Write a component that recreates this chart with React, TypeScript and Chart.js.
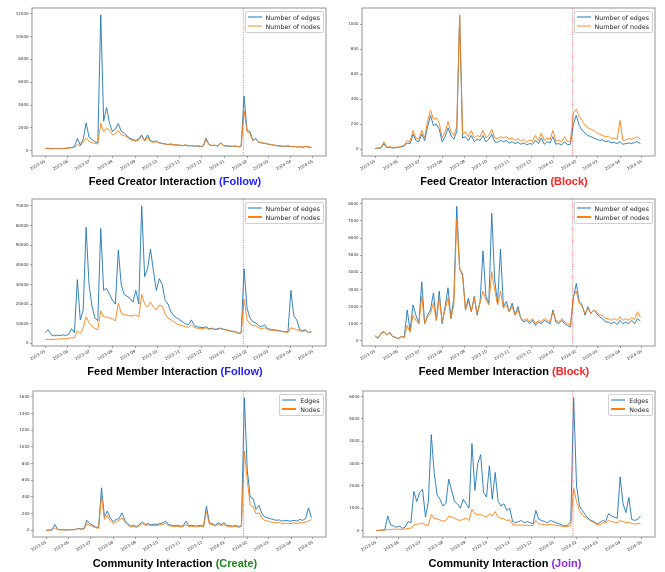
import React, { useEffect, useRef } from "react";
import { Chart, registerables } from "chart.js";

Chart.register(...registerables);

// Days since 2023-05-01 for every sample
const dayIndex = [
  0, 4, 8, 12, 16, 20, 24, 28, 32, 36, 40, 44, 48, 52, 56, 60, 64, 68, 72, 76,
  80, 84, 88, 92, 96, 100, 104, 108, 112, 116, 120, 124, 128, 132, 136, 140, 144, 148, 152, 156,
  160, 164, 168, 172, 176, 180, 184, 188, 192, 196, 200, 204, 208, 212, 216, 220, 224, 228, 232, 236,
  240, 244, 248, 252, 256, 260, 264, 268, 272, 276, 280, 284, 288, 292, 296, 300, 304, 308, 312, 316,
  320, 324, 328, 332, 336, 340, 344, 348, 352, 356, 360, 364,
];
const monthTickDays = [0, 31, 61, 92, 123, 153, 184, 214, 245, 276, 305, 336, 366];
const monthTickLabels = [
  "2023-05", "2023-06", "2023-07", "2023-08", "2023-09", "2023-10", "2023-11",
  "2023-12", "2024-01", "2024-02", "2024-03", "2024-04", "2024-05",
];
const eventDay = 271;

// Feed Creator Interaction (Follow)
const fcFollowEdges = [
  200, 230, 180, 210, 190, 220, 200, 230, 260, 300,
  350, 1100, 500, 1000, 2450, 1200, 1000, 800, 700, 11900,
  2600, 3800, 2400, 1700, 1900, 2400, 1700, 1600, 1300, 1100,
  1000, 900, 1050, 1400, 900, 1400, 900, 800, 850, 700,
  650, 600, 550, 600, 500, 520, 480, 450, 500, 430,
  450, 400, 420, 380, 400, 1100, 550, 450, 480, 420,
  700, 450, 420, 400, 380, 420, 350, 400, 4800, 1800,
  1700, 900, 1100, 750, 700, 650, 600, 550, 500, 450,
  420, 400, 380, 420, 350, 380, 330, 360, 300, 380,
  320, 300,
];
const fcFollowNodes = [
  200, 210, 170, 200, 180, 200, 190, 210, 240, 270,
  300, 550, 420, 800, 1100, 850, 700, 650, 600, 2400,
  1700, 2000, 1800, 1400, 1500, 1800, 1400, 1350, 1200, 1000,
  900, 850, 950, 1300, 850, 1200, 800, 750, 800, 680,
  650, 600, 560, 600, 520, 540, 500, 470, 520, 450,
  470, 430, 450, 400, 420, 950, 550, 480, 500, 450,
  650, 480, 450, 430, 400, 430, 380, 420, 3500, 1700,
  1500, 900, 1050, 750, 700, 680, 620, 560, 520, 480,
  450, 420, 400, 450, 380, 400, 350, 380, 330, 400,
  340, 320,
];

// Feed Creator Interaction (Block)
const fcBlockEdges = [
  5, 8, 10, 45, 12, 15, 10, 12, 15, 20,
  25, 50, 45, 120, 70, 60, 120, 70, 180, 270,
  190, 200, 160, 60, 100, 170, 110, 80, 140, 1060,
  90, 100, 70, 110, 60, 80, 70, 110, 60, 80,
  120, 60, 55, 70, 60, 70, 50, 60, 45, 55,
  40, 50, 35, 45, 40, 70, 45, 90, 40, 60,
  50, 100, 40, 45, 35, 60, 35, 40, 200, 270,
  190, 150, 130, 110, 100, 90, 80, 70, 75, 60,
  65, 50, 55, 45, 60, 40, 45, 50, 45, 55,
  60, 45,
];
const fcBlockNodes = [
  6, 10, 12, 60, 15, 20, 15, 15, 18, 25,
  35, 70, 60, 150, 90, 80, 150, 90, 230, 310,
  240, 250, 210, 90, 140, 220, 140, 110, 180, 1075,
  120, 140, 100, 150, 90, 110, 100, 150, 90, 110,
  160, 90, 85, 100, 90, 100, 80, 90, 70, 85,
  65, 80, 55, 75, 65, 110, 70, 130, 70, 90,
  80, 150, 65, 70, 60, 100, 60, 65, 290, 320,
  260, 230, 190, 170, 160, 150, 130, 120, 110, 100,
  105, 85, 90, 80, 230, 70, 75, 85, 80, 90,
  100, 80,
];

// Feed Member Interaction (Follow)
const fmFollowEdges = [
  5500, 7000, 4500, 3800, 4200, 4000, 4300, 4100, 4500, 7500,
  5500, 32500, 12000, 17000, 59000, 30000, 19000, 13000, 11500, 58500,
  27000, 28000, 25000, 22000, 20000, 47500, 30000, 25000, 24000, 23000,
  21000, 27000, 20000, 70000, 34000, 38000, 48000, 37000, 27000, 33000,
  30000, 22000, 20000, 16000, 14000, 13000, 12000, 11000, 10000, 9500,
  12000, 9000, 8500, 8200, 8000, 8500, 7500, 7800, 7200, 7500,
  7800, 7200, 7000, 6500, 6200, 6000, 5200, 5500, 38000, 18000,
  13000, 11000, 10500, 9000, 8500, 9500, 7500, 7200, 7000, 6800,
  6500, 6200, 6000, 5800, 27000, 14000, 12000, 7000, 6500, 7000,
  5500, 6000,
];
const fmFollowNodes = [
  2000, 2100, 2000, 2100, 2200, 2300, 2400, 2400, 2600, 3000,
  2800, 6500, 5000, 8000, 13500, 10500, 9000, 7500, 7000, 16500,
  13500, 13500, 13000, 12500, 11500, 20500, 15500, 14500, 14500, 14000,
  14200, 14500, 13500, 25000, 20000, 18500, 21000, 18500, 17000, 19500,
  19000, 15000, 13000, 12000, 11000, 10000, 9500, 9000, 8500, 8200,
  9500, 8000, 7800, 7600, 7500, 8000, 7200, 7500, 7000, 7200,
  7500, 7000, 6800, 6300, 6000, 5800, 5000, 5300, 22500, 12000,
  10000, 9000, 9000, 8000, 7500, 8000, 7000, 6800, 6700, 6500,
  6300, 6000, 5800, 5500, 8000, 7500, 7000, 6500, 6000, 6500,
  5500, 6000,
];

// Feed Member Interaction (Block)
const fmBlockEdges = [
  300, 150, 450, 550, 350, 500, 250, 200, 120, 250,
  200, 1800, 600, 2100, 1500, 1000, 3450, 1000, 1500, 1800,
  2800, 1200, 2900, 1000, 2000, 3100, 1300, 2500, 7850, 4200,
  3900, 1800, 2500, 1700, 2600, 1500, 2300, 5250, 2600, 2200,
  7450, 3600, 2200, 5350, 2000, 2300, 1700, 2200, 1500, 2000,
  1300, 1100, 1200, 1000, 1200, 900, 1100, 1000, 1200, 1100,
  1000, 1800, 1100, 1000, 1200, 1000, 900, 800, 2500, 3350,
  2300, 2100, 1500, 2000, 1600, 1800, 1600, 1400, 1300, 1100,
  1100, 1000, 1100, 950, 1200, 1000, 1100, 1000, 1200, 1000,
  1300, 1150,
];
const fmBlockNodes = [
  250, 180, 400, 500, 350, 450, 250, 200, 150, 250,
  220, 900, 500, 1500, 1200, 1000, 2600, 1000, 1400, 1600,
  2200, 1200, 2500, 1100, 1800, 2500, 1300, 2100, 7100, 4200,
  3800, 1800, 2300, 1700, 2500, 1600, 2200, 2900, 2400, 2100,
  4050, 3000, 2100, 2900, 1900, 2100, 1700, 2000, 1500, 1800,
  1300, 1200, 1300, 1100, 1300, 1000, 1200, 1100, 1300, 1200,
  1100, 1700, 1200, 1100, 1300, 1100, 1000, 900, 2600, 2900,
  2200, 2000, 1600, 1900, 1600, 1800, 1700, 1500, 1500, 1300,
  1300, 1200, 1300, 1200, 1400, 1200, 1300, 1200, 1350, 1250,
  1700, 1350,
];

// Community Interaction (Create)
const ciCreateEdges = [
  0, 2, 5, 70, 10, 8, 5, 5, 6, 8,
  10, 25, 15, 20, 120, 80, 60, 40, 35, 510,
  160, 230, 150, 100, 130, 140, 210, 120, 80, 50,
  60, 45, 70, 100, 70, 80, 65, 75, 70, 80,
  90, 110, 70, 60, 55, 60, 50, 55, 110, 55,
  60, 50, 55, 60, 50, 290, 90, 80, 60, 90,
  70, 90, 60, 55, 50, 60, 45, 55, 1590, 720,
  400, 380, 250, 300, 200, 160, 150, 140, 130, 120,
  125, 110, 120, 115, 110, 120, 110, 130, 120, 140,
  270, 150,
];
const ciCreateNodes = [
  0, 2, 4, 30, 8, 6, 5, 5, 6, 7,
  8, 20, 12, 15, 80, 60, 45, 30, 25, 410,
  130, 180, 110, 80, 100, 120, 150, 100, 60, 40,
  45, 35, 55, 80, 60, 65, 55, 60, 55, 65,
  70, 85, 55, 50, 45, 50, 40, 45, 70, 45,
  50, 40, 45, 50, 40, 230, 75, 70, 50, 75,
  55, 70, 50, 45, 40, 50, 35, 45, 950, 600,
  300, 280, 200, 210, 150, 120, 110, 100, 95, 90,
  95, 80, 85, 85, 80, 90, 80, 95, 90, 100,
  110, 130,
];

// Community Interaction (Join)
const ciJoinEdges = [
  0, 10, 20, 25, 650, 250, 200, 150, 200, 100,
  150, 400, 350, 1750, 1300, 1700, 1850, 600, 1300, 4300,
  2600, 1600, 1400, 1100, 1200, 2300, 1800, 1300, 1200, 1000,
  1400, 1200, 1000, 3900, 1800, 3000, 3400, 1700, 1500, 2900,
  1400, 2600, 1300, 1100, 1200, 900, 1000, 400, 350, 400,
  450, 350, 400, 350, 300, 900, 500, 450, 400, 350,
  450, 400, 350, 300, 250, 200, 250, 400, 5950, 2000,
  1100, 900, 700, 550, 450, 400, 300, 350, 450, 400,
  750, 650, 600, 550, 2400, 1200, 800, 1480, 500, 450,
  500, 650,
];
const ciJoinNodes = [
  0, 10, 15, 20, 40, 50, 55, 60, 60, 55,
  65, 100, 100, 250, 280, 300, 330, 250, 230, 720,
  550, 520, 470, 420, 450, 650, 600, 550, 480, 450,
  520, 550, 450, 950, 750, 700, 720, 650, 600, 750,
  650, 850, 600, 550, 520, 450, 480, 260, 250, 240,
  250, 230, 240, 220, 220, 450, 300, 280, 260, 250,
  270, 250, 230, 210, 190, 170, 180, 220, 1900, 1300,
  900, 700, 600, 500, 420, 360, 260, 250, 350, 340,
  450, 400, 380, 350, 450, 400, 350, 370, 310, 300,
  300, 320,
];

const yTicksFcFollow = [0, 2000, 4000, 6000, 8000, 10000, 12000];
const yTicksFcBlock = [0, 200, 400, 600, 800, 1000];
const yTicksFmFollow = [0, 10000, 20000, 30000, 40000, 50000, 60000, 70000];
const yTicksFmBlock = [0, 1000, 2000, 3000, 4000, 5000, 6000, 7000, 8000];
const yTicksCiCreate = [0, 200, 400, 600, 800, 1000, 1200, 1400, 1600];
const yTicksCiJoin = [0, 1000, 2000, 3000, 4000, 5000, 6000];

const longLegend = ["Number of edges", "Number of nodes"];
const shortLegend = ["Edges", "Nodes"];

type Rect = { x0: number; y0: number; x1: number; y1: number };
type PanelSpec = {
  edges: number[];
  nodes: number[];
  yTicks: number[];
  yMin: number;
  yMax: number;
  plot: Rect;
  legend: string[];
  legendColors: string[];
  title: string;
  tag: string;
  tagColor: string;
  titleX: number;
  titleY: number;
};

const ORANGE = "#ff7f0e";
const LIGHT_BLUE = "#8cbbe0";
const LIGHT_ORANGE = "#ffc48f";

const panels: PanelSpec[] = [
  {
    edges: fcFollowEdges, nodes: fcFollowNodes, yTicks: yTicksFcFollow, yMin: -450, yMax: 12500,
    plot: { x0: 32, y0: 8, x1: 326, y1: 156 }, legend: longLegend, legendColors: [LIGHT_BLUE, LIGHT_ORANGE],
    title: "Feed Creator Interaction", tag: "(Follow)", tagColor: "#2222ff", titleX: 175, titleY: 182,
  },
  {
    edges: fcBlockEdges, nodes: fcBlockNodes, yTicks: yTicksFcBlock, yMin: -54, yMax: 1128,
    plot: { x0: 362, y0: 8, x1: 655, y1: 156 }, legend: longLegend, legendColors: [LIGHT_BLUE, LIGHT_ORANGE],
    title: "Feed Creator Interaction", tag: "(Block)", tagColor: "#ff2020", titleX: 504, titleY: 182,
  },
  {
    edges: fmFollowEdges, nodes: fmFollowNodes, yTicks: yTicksFmFollow, yMin: -1300, yMax: 73500,
    plot: { x0: 32, y0: 199, x1: 326, y1: 346 }, legend: longLegend, legendColors: [LIGHT_BLUE, ORANGE],
    title: "Feed Member Interaction", tag: "(Follow)", tagColor: "#2222ff", titleX: 175, titleY: 372,
  },
  {
    edges: fmBlockEdges, nodes: fmBlockNodes, yTicks: yTicksFmBlock, yMin: -300, yMax: 8280,
    plot: { x0: 362, y0: 199, x1: 655, y1: 346 }, legend: longLegend, legendColors: [LIGHT_BLUE, ORANGE],
    title: "Feed Member Interaction", tag: "(Block)", tagColor: "#ff2020", titleX: 504, titleY: 372,
  },
  {
    edges: ciCreateEdges, nodes: ciCreateNodes, yTicks: yTicksCiCreate, yMin: -80, yMax: 1670,
    plot: { x0: 33, y0: 391, x1: 326, y1: 537 }, legend: shortLegend, legendColors: [LIGHT_BLUE, ORANGE],
    title: "Community Interaction", tag: "(Create)", tagColor: "#1a861a", titleX: 175, titleY: 564,
  },
  {
    edges: ciJoinEdges, nodes: ciJoinNodes, yTicks: yTicksCiJoin, yMin: -290, yMax: 6250,
    plot: { x0: 363, y0: 391, x1: 655, y1: 537 }, legend: shortLegend, legendColors: [LIGHT_BLUE, ORANGE],
    title: "Community Interaction", tag: "(Join)", tagColor: "#8a2be2", titleX: 505, titleY: 564,
  },
];

const AXW = 32;
const PAD_T = 8;
const PAD_R = 8;
const AXH = 20;
const X_MIN = -18;
const X_MAX = 384;

const framePlugin = {
  id: "frameBox",
  afterDatasetsDraw(chart: any) {
    const { ctx, chartArea, scales } = chart;
    const { left, top, right, bottom } = chartArea;
    const x = scales.x.getPixelForValue(eventDay);
    ctx.save();
    ctx.strokeStyle = "rgba(255,40,40,0.75)";
    ctx.lineWidth = 0.8;
    ctx.setLineDash([1.2, 1.2]);
    ctx.beginPath();
    ctx.moveTo(x, top);
    ctx.lineTo(x, bottom);
    ctx.stroke();
    ctx.setLineDash([]);
    ctx.strokeStyle = "#7a7a7a";
    ctx.lineWidth = 0.8;
    ctx.strokeRect(left, top, right - left, bottom - top);
    ctx.restore();
  },
};

function Panel({ p }: { p: PanelSpec }) {
  const ref = useRef<HTMLCanvasElement | null>(null);
  const w = p.plot.x1 - p.plot.x0 + AXW + PAD_R;
  const h = p.plot.y1 - p.plot.y0 + PAD_T + AXH;
  useEffect(() => {
    if (!ref.current) return;
    const tickFont = { size: 4, family: "DejaVu Sans" };
    const gridOpts = {
      display: true,
      drawOnChartArea: false,
      drawTicks: true,
      tickLength: 2,
      color: "#666",
      lineWidth: 0.6,
    };
    const chart = new Chart(ref.current, {
      type: "line",
      data: {
        datasets: [
          {
            label: p.legend[0],
            data: dayIndex.map((d, i) => ({ x: d, y: p.edges[i] })),
            borderColor: "rgba(31,119,180,0.9)",
            borderWidth: 1,
            pointRadius: 0,
            tension: 0,
            order: 1,
          },
          {
            label: p.legend[1],
            data: dayIndex.map((d, i) => ({ x: d, y: p.nodes[i] })),
            borderColor: "rgba(255,127,14,0.9)",
            borderWidth: 1,
            pointRadius: 0,
            tension: 0,
            order: 0,
          },
        ],
      },
      options: {
        responsive: false,
        animation: false,
        events: [],
        layout: { padding: { top: PAD_T, right: PAD_R, left: 0, bottom: 0 } },
        plugins: {
          legend: { display: false },
          tooltip: { enabled: false },
          title: { display: false },
        },
        scales: {
          x: {
            type: "linear",
            min: X_MIN,
            max: X_MAX,
            afterFit: (s: any) => {
              s.height = AXH;
            },
            afterBuildTicks: (s: any) => {
              s.ticks = monthTickDays.map((v) => ({ value: v }));
            },
            ticks: {
              autoSkip: false,
              minRotation: 30,
              maxRotation: 30,
              padding: 1,
              font: tickFont,
              color: "#333",
              callback: (v: any) => {
                const i = monthTickDays.indexOf(Number(v));
                return i >= 0 ? monthTickLabels[i] : "";
              },
            },
            grid: gridOpts,
            border: { display: false },
          },
          y: {
            type: "linear",
            min: p.yMin,
            max: p.yMax,
            afterFit: (s: any) => {
              s.width = AXW;
            },
            afterBuildTicks: (s: any) => {
              s.ticks = p.yTicks.map((v) => ({ value: v }));
            },
            ticks: {
              padding: 1.5,
              font: tickFont,
              color: "#333",
              callback: (v: any) => String(v),
            },
            grid: gridOpts,
            border: { display: false },
          },
        },
      } as any,
      plugins: [framePlugin],
    });
    return () => chart.destroy();
  }, []);

  return (
    <>
      <canvas
        ref={ref}
        width={w}
        height={h}
        style={{
          position: "absolute",
          left: p.plot.x0 - AXW,
          top: p.plot.y0 - PAD_T,
          width: w,
          height: h,
        }}
      />
      <div
        style={{
          position: "absolute",
          right: 665 - (p.plot.x1 - 2),
          top: p.plot.y0 + 2.5,
          border: "1px solid rgba(205,205,205,0.95)",
          borderRadius: 2,
          background: "rgba(255,255,255,0.85)",
          padding: "1px 3px 1px 2px",
          fontFamily: "'DejaVu Sans', sans-serif",
          fontSize: "6.3px",
          color: "#222",
          lineHeight: "9px",
        }}
      >
        {p.legend.map((lab, i) => (
          <div key={lab} style={{ display: "flex", alignItems: "center", height: 9 }}>
            <span
              style={{
                display: "inline-block",
                width: 14,
                height: 1.2,
                background: p.legendColors[i],
                marginRight: 4,
              }}
            />
            <span style={{ whiteSpace: "nowrap" }}>{lab}</span>
          </div>
        ))}
      </div>
      <div
        style={{
          position: "absolute",
          left: p.titleX,
          top: p.titleY - 7,
          transform: "translateX(-50%)",
          whiteSpace: "nowrap",
          fontFamily: "'Liberation Sans', Arial, sans-serif",
          fontWeight: "bold",
          fontSize: "11px",
          lineHeight: "13px",
          color: "#000",
        }}
      >
        {p.title} <span style={{ color: p.tagColor }}>{p.tag}</span>
      </div>
    </>
  );
}

export default function App() {
  return (
    <div
      style={{
        position: "absolute",
        left: 0,
        top: 0,
        width: 665,
        height: 572,
        background: "#fff",
        overflow: "hidden",
      }}
    >
      {panels.map((p, i) => (
        <Panel key={i} p={p} />
      ))}
    </div>
  );
}
